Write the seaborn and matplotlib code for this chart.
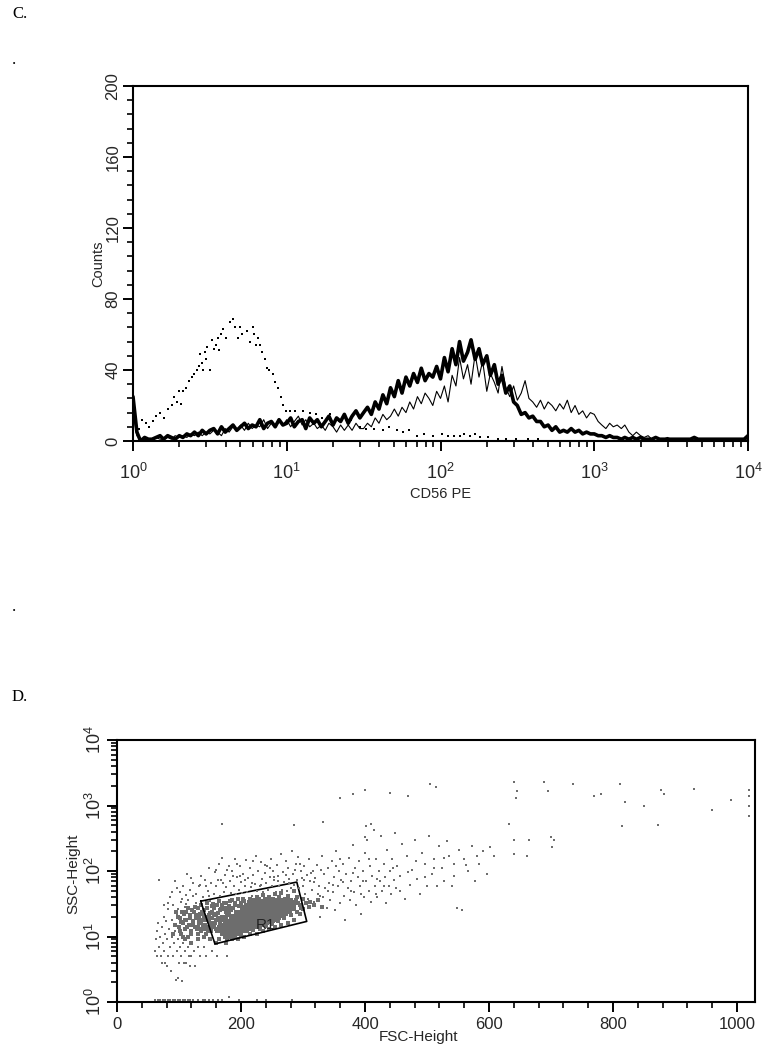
import pandas as pd
import matplotlib
matplotlib.use("Agg")
import matplotlib.pyplot as plt
import seaborn as sns
from matplotlib.ticker import FixedLocator, NullFormatter

# panel C histogram, one row per decade
pe_values = [
    1, 1.06, 1.12, 1.19, 1.26, 1.33, 1.41, 1.5, 1.58, 1.68, 1.78, 1.88, 2, 2.11, 2.24, 2.37, 2.51, 2.66, 2.82, 2.99,
    3.16, 3.35, 3.55, 3.76, 3.98, 4.22, 4.47, 4.73, 5.01, 5.31, 5.62, 5.96, 6.31, 6.68, 7.08, 7.5, 7.94, 8.41, 8.91, 9.44,
    10, 10.6, 11.2, 11.9, 12.6, 13.3, 14.1, 15, 15.8, 16.8, 17.8, 18.8, 20, 21.1, 22.4, 23.7, 25.1, 26.6, 28.2, 29.9,
    31.6, 33.5, 35.5, 37.6, 39.8, 42.2, 44.7, 47.3, 50.1, 53.1, 56.2, 59.6, 63.1, 66.8, 70.8, 75, 79.4, 84.1, 89.1, 94.4,
    100, 106, 112, 119, 126, 133, 141, 150, 158, 168, 178, 188, 200, 211, 224, 237, 251, 266, 282, 299,
    316, 335, 355, 376, 398, 422, 447, 473, 501, 531, 562, 596, 631, 668, 708, 750, 794, 841, 891, 944,
    1000, 1060, 1120, 1190, 1260, 1330, 1410, 1500, 1580, 1680, 1780, 1880, 2000, 2110, 2240, 2370, 2510, 2660, 2820, 2990,
    3160, 3350, 3550, 3760, 3980, 4220, 4470, 4730, 5010, 5310, 5620, 5960, 6310, 6680, 7080, 7500, 7940, 8410, 8910, 9440,
    10000,
]
thick_counts = [
    25, 5, 0, 2, 1, 1, 2, 3, 1, 3, 2, 1, 3, 2, 4, 3, 5, 3, 6, 4,
    6, 7, 4, 8, 5, 7, 9, 6, 8, 10, 7, 9, 8, 12, 7, 10, 11, 8, 12, 9,
    10, 13, 8, 11, 12, 7, 13, 10, 12, 8, 11, 14, 9, 13, 11, 15, 10, 14, 17, 13,
    16, 19, 15, 22, 18, 26, 21, 30, 25, 34, 27, 36, 31, 38, 33, 41, 34, 38, 36, 42,
    35, 47, 39, 52, 43, 56, 45, 50, 57, 46, 52, 43, 48, 37, 43, 32, 37, 27, 31, 22,
    20, 15, 16, 13, 14, 11, 11, 8, 9, 6, 8, 5, 6, 5, 7, 5, 6, 4, 5, 4,
    4, 3, 3, 2, 3, 2, 2, 1, 2, 1, 2, 1, 2, 1, 1, 1, 2, 1, 1, 1,
    1, 1, 1, 1, 1, 1, 2, 1, 1, 1, 1, 1, 1, 1, 1, 1, 1, 1, 1, 1,
    3,
]
thin_counts = [
    16, 3, 1, 1, 0, 1, 2, 1, 1, 2, 1, 3, 2, 3, 2, 4, 3, 5, 3, 5,
    4, 6, 5, 3, 7, 5, 8, 6, 9, 6, 10, 7, 9, 8, 12, 7, 10, 8, 11, 9,
    12, 8, 11, 14, 9, 12, 8, 10, 7, 9, 6, 10, 8, 5, 9, 6, 9, 6, 10, 7,
    7, 10, 8, 13, 10, 15, 12, 14, 18, 14, 19, 16, 22, 18, 25, 21, 27, 24, 20, 28,
    24, 31, 22, 37, 31, 47, 35, 43, 32, 49, 36, 45, 28, 38, 33, 27, 42, 30, 25, 31,
    23, 27, 34, 24, 22, 19, 23, 18, 22, 20, 17, 21, 18, 23, 16, 20, 15, 17, 13, 16,
    15, 11, 9, 7, 10, 8, 9, 7, 9, 5, 3, 5, 3, 2, 3, 1, 2, 1, 1, 2,
    1, 1, 1, 1, 0, 1, 1, 0, 1, 1, 0, 1, 1, 0, 1, 1, 0, 1, 1, 0,
    1,
]
dotted_points = [
    (1.05, 9), (1.1, 7), (1.15, 12), (1.22, 10), (1.28, 8), (1.35, 11), (1.42, 14), (1.5, 16), (1.6, 13), (1.68, 18),
    (1.78, 20), (1.85, 25), (1.92, 22), (2.0, 28), (2.05, 21), (2.1, 28), (2.2, 30), (2.3, 34), (2.42, 36), (2.5, 38),
    (2.6, 40), (2.68, 42), (2.72, 49), (2.8, 44), (2.85, 40), (2.92, 50), (3.0, 46), (3.05, 53), (3.15, 40), (3.25, 57),
    (3.35, 52), (3.45, 54), (3.55, 58), (3.62, 51), (3.72, 60), (3.85, 63), (4.05, 58), (4.25, 67), (4.5, 69), (4.6, 64),
    (4.8, 58), (5.0, 64), (5.15, 60), (5.5, 62), (5.8, 56), (6.0, 64), (6.15, 60), (6.3, 54), (6.5, 58), (6.7, 54),
    (6.9, 50), (7.2, 46), (7.4, 41), (7.7, 40), (8.1, 38), (8.4, 33), (8.8, 30), (9.2, 25), (9.4, 20), (9.9, 17),
    (10.5, 17), (11.3, 17), (12.8, 17), (14.2, 16), (15.5, 15), (17, 13), (19, 15), (22, 11), (26, 12), (30, 8),
    (33, 7), (37, 7), (42, 6), (46, 8), (52, 6), (57, 5), (62, 6), (70, 3), (78, 4), (90, 3),
    (102, 4), (112, 3), (122, 3), (133, 3), (142, 4), (155, 3), (168, 4), (180, 2), (205, 2), (235, 1),
    (265, 1), (310, 1), (370, 1), (430, 1),
]

# panel D, dense centre of the gated population
core_points = [
    (178, 12), (178, 14), (178, 16), (187, 12), (187, 14), (187, 16), (187, 19),
    (195, 12), (195, 14), (195, 16), (195, 19), (195, 22), (205, 13), (205, 15), (205, 17), (205, 20), (205, 23), (205, 26),
    (215, 14), (215, 16), (215, 18), (215, 21), (215, 24), (215, 28), (225, 15), (225, 17), (225, 19), (225, 22), (225, 26), (225, 30), (225, 32),
    (235, 16), (235, 18), (235, 20), (235, 23), (235, 27), (235, 31), (235, 33), (245, 18), (245, 20), (245, 23), (245, 27), (245, 31), (245, 33),
    (255, 19), (255, 21), (255, 24), (255, 28), (255, 32), (265, 22), (265, 24), (265, 28), (265, 32), (275, 25), (275, 27), (275, 31), (283, 28), (283, 31),
]
# left shoulder and the inside of the gate
shoulder_points = [
    (100, 14), (102, 19), (104, 11), (106, 16), (108, 22), (110, 13), (112, 18), (114, 10), (116, 15), (118, 21),
    (120, 12), (122, 17), (124, 24), (126, 14), (128, 19), (130, 11), (132, 16), (134, 22), (136, 13), (138, 18),
    (140, 25), (142, 15), (144, 20), (146, 12), (148, 17), (150, 23), (152, 14), (154, 19), (156, 27), (158, 16),
    (160, 21), (162, 12), (164, 18), (166, 25), (168, 15), (170, 30), (172, 20), (174, 10), (176, 24), (178, 9),
    (125, 28), (135, 30), (145, 33), (155, 31), (165, 35), (175, 33), (185, 36), (195, 38), (205, 35), (215, 38),
    (225, 40), (235, 43), (245, 40), (255, 44), (265, 46), (275, 42), (285, 50), (180, 25), (190, 30), (200, 32),
    (165, 9), (175, 8), (185, 9), (195, 9), (205, 10), (215, 11), (225, 11), (235, 12), (245, 13), (255, 14),
    (265, 15), (275, 16), (285, 18), (295, 22), (295, 30), (300, 26), (305, 33), (310, 28), (105, 24), (115, 27),
    (98, 20), (94, 15), (90, 11), (110, 9), (120, 8), (130, 9), (140, 10), (150, 9), (160, 8), (95, 24),
    (101, 12), (103, 16.5), (107, 10), (109, 18), (111, 24), (113, 14), (117, 19), (119, 11), (121, 25), (123, 15),
    (127, 21), (129, 13), (131, 27), (133, 18), (135, 12), (137, 24), (139, 15), (141, 19), (143, 11), (145, 27),
    (147, 14), (149, 20), (151, 12), (153, 29), (155, 16), (157, 22), (159, 13), (161, 30), (163, 19), (165, 14),
    (167, 26), (169, 20), (171, 13), (173, 33), (175, 27), (177, 22), (181, 29), (183, 35), (187, 27), (191, 33),
    (197, 29), (203, 37), (209, 30), (213, 34), (221, 36), (229, 38), (241, 37), (251, 38), (261, 40), (271, 38),
    (281, 36), (291, 40), (170, 11), (180, 10), (190, 10), (200, 10.5), (210, 12), (220, 12.5), (230, 13), (240, 14.5),
    (250, 15.5), (260, 17), (270, 19), (280, 21), (290, 24), (300, 38), (312, 34), (318, 30), (324, 36), (330, 28),
    (130, 14), (133, 20), (136, 16), (139, 22), (142, 13), (145, 18), (148, 21), (151, 16), (154, 24), (157, 14),
    (160, 18), (163, 23), (166, 16), (169, 18), (172, 26), (174, 15), (176, 19), (178, 21), (181, 23), (184, 25),
    (168, 12), (172, 14), (186, 10.5), (194, 11), (202, 28), (208, 30), (218, 33), (228, 36), (238, 38), (248, 37),
    (258, 36), (268, 36), (278, 36), (288, 36), (292, 33), (296, 27), (262, 19), (272, 22), (252, 17), (242, 16),
]
# scattered events
sparse_points = [
    (62, 6), (63, 9), (64, 12), (65, 5), (66, 16), (67, 7), (68, 72), (70, 10), (71, 5), (72, 14),
    (73, 4), (74, 8), (75, 20), (76, 6), (77, 11), (78, 4), (79, 17), (80, 3.5), (81, 9), (82, 26),
    (83, 5), (84, 13), (85, 40), (86, 7), (87, 3), (88, 18), (89, 10), (90, 5), (91, 30), (92, 8),
    (93, 70), (94, 12), (95, 2.2), (96, 6), (97, 22), (98, 2.3), (99, 9), (100, 4), (101, 48), (102, 7),
    (103, 34), (104, 5), (105, 2.1), (106, 60), (107, 8), (108, 4), (109, 28), (110, 6), (111, 43), (112, 4),
    (113, 90), (114, 7), (115, 36), (116, 5), (117, 3.5), (118, 52), (120, 5), (122, 66), (124, 6), (126, 3.5),
    (128, 45), (130, 7), (132, 58), (134, 5), (136, 85), (138, 40), (140, 7), (142, 72), (144, 5), (146, 50),
    (148, 110), (150, 35), (152, 65), (154, 6), (156, 44), (158, 95), (160, 58), (162, 5), (164, 130), (166, 42),
    (168, 72), (170, 160), (172, 48), (174, 88), (176, 56), (178, 5), (180, 120), (182, 70), (184, 46), (186, 100),
    (188, 60), (190, 155), (192, 44), (194, 82), (196, 52), (198, 120), (200, 68), (202, 46), (204, 90), (206, 58),
    (208, 145), (210, 48), (212, 78), (214, 110), (216, 56), (218, 42), (220, 88), (222, 64), (224, 170), (226, 50),
    (228, 100), (230, 60), (232, 135), (234, 76), (236, 48), (238, 92), (240, 66), (242, 120), (244, 52), (246, 80),
    (248, 150), (250, 58), (252, 100), (254, 72), (256, 47), (258, 125), (260, 85), (262, 60), (264, 180), (266, 52),
    (268, 95), (270, 68), (272, 140), (274, 50), (276, 110), (278, 76), (280, 55), (282, 200), (284, 90), (286, 62),
    (288, 130), (290, 72), (292, 165), (294, 55), (296, 100), (298, 78), (300, 60), (302, 120), (304, 44), (306, 88),
    (308, 38), (310, 150), (312, 70), (314, 52), (316, 100), (318, 34), (320, 78), (322, 125), (324, 45), (326, 60),
    (328, 20), (330, 170), (332, 40), (334, 90), (336, 55), (338, 27), (340, 110), (342, 66), (344, 36), (346, 140),
    (348, 48), (350, 80), (352, 25), (354, 200), (356, 58), (358, 100), (360, 32), (362, 72), (364, 130), (366, 42),
    (368, 18), (370, 90), (372, 55), (374, 160), (376, 36), (378, 70), (380, 250), (382, 48), (384, 110), (386, 30),
    (388, 80), (390, 140), (392, 60), (394, 22), (396, 100), (398, 40), (400, 190), (402, 70), (404, 300), (406, 50),
    (408, 120), (410, 34), (412, 85), (414, 420), (416, 60), (418, 155), (420, 40), (422, 100), (424, 70), (426, 340),
    (428, 50), (430, 130), (432, 80), (434, 32), (436, 210), (438, 60), (440, 100), (442, 45), (444, 150), (446, 72),
    (448, 380), (450, 55), (452, 120), (456, 85), (460, 260), (464, 38), (468, 170), (472, 62), (476, 105), (480, 300),
    (484, 75), (488, 45), (492, 190), (496, 130), (500, 58), (504, 340), (508, 90), (512, 150), (516, 60), (520, 240),
    (524, 110), (528, 70), (532, 290), (536, 170), (540, 60), (544, 130), (548, 27), (552, 210), (556, 25), (560, 150),
    (566, 100), (572, 240), (578, 70), (584, 130), (590, 200), (596, 90), (602, 230), (608, 170),
    (170, 520), (332, 560), (285, 500), (402, 480), (410, 520), (400, 330), (640, 300), (665, 300), (640, 180), (662, 170),
    (700, 330), (702, 230), (632, 530), (705, 300),
    (360, 1300), (380, 1500), (400, 1700), (440, 1550), (470, 1400), (505, 2100), (515, 1900), (640, 2300), (643, 1300), (645, 1650),
    (688, 2300), (695, 1650), (735, 2100), (770, 1400), (780, 1500), (812, 2100), (820, 1150), (850, 1000), (878, 1700), (882, 1500),
    (930, 1800), (960, 850), (990, 1200), (1020, 1750), (1020, 1400), (1020, 1000), (1020, 700), (815, 480), (873, 500),
    (83, 33), (97, 55), (105, 38), (119, 78), (127, 33), (143, 58), (159, 105), (171, 66), (187, 84), (193, 130),
    (207, 72), (219, 140), (233, 62), (247, 110), (259, 70), (273, 88), (287, 105), (301, 74), (317, 68), (329, 105),
    (341, 50), (353, 120), (365, 68), (381, 92), (393, 45), (407, 150), (419, 75), (431, 60), (445, 110), (457, 50),
    (469, 95), (483, 140), (497, 80), (511, 110), (527, 160), (543, 85), (563, 125), (581, 170), (76, 30), (88, 48),
    (99, 26), (112, 31), (123, 42), (134, 62), (149, 42), (163, 72), (177, 105), (199, 85), (217, 66), (239, 125),
    (253, 82), (277, 66), (295, 130), (313, 92), (327, 42), (349, 62), (359, 150), (377, 50), (397, 70), (417, 44),
]
axis_points = [
    (62, 1.06), (66, 1.06), (70, 1.06), (74, 1.06), (78, 1.06), (82, 1.06), (86, 1.06), (90, 1.06), (94, 1.06), (98, 1.06),
    (102, 1.06), (106, 1.06), (110, 1.06), (114, 1.06), (118, 1.06), (122, 1.06), (130, 1.06), (138, 1.06), (142, 1.06),
    (148, 1.06), (155, 1.06), (163, 1.06), (170, 1.06), (180, 1.2), (196, 1.06), (225, 1.06), (240, 1.06), (283, 1.06),
]
gate_x = [135, 290, 306, 158, 135]
gate_y = [34.6, 67.7, 17, 7.7, 34.6]

hist_ticks = [0, 40, 80, 120, 160, 200]
hist_decades = [1, 10, 100, 1000, 10000]
hist_decade_labels = ["$\\mathregular{10^{0}}$", "$\\mathregular{10^{1}}$", "$\\mathregular{10^{2}}$", "$\\mathregular{10^{3}}$", "$\\mathregular{10^{4}}$"]
fsc_ticks = [0, 200, 400, 600, 800, 1000]

sns.set_style("ticks")
plt.rcParams["font.family"] = ["Liberation Sans", "DejaVu Sans"]
plt.rcParams["mathtext.fontset"] = "custom"
plt.rcParams["mathtext.rm"] = "Liberation Sans"

W, H = 765, 1050
fig = plt.figure(figsize=(W / 100, H / 100), dpi=100)


def add_panel(left, top, right, bottom):
    return fig.add_axes([left / W, 1 - bottom / H, (right - left) / W, (bottom - top) / H])


def style_axes(ax):
    for side in ax.spines.values():
        side.set_linewidth(1.5)
        side.set_color("black")
    ax.tick_params(which="major", length=7, width=1.4, labelsize=12, pad=2, color="black")
    ax.tick_params(which="minor", length=4, width=1.2, color="black")
    ax.tick_params(axis="y", labelrotation=90)
    for lab in ax.get_yticklabels():
        lab.set_va("center")


# panel C
ax1 = add_panel(133, 86, 748, 441)
hist = pd.DataFrame({"pe": pe_values, "thick": thick_counts, "thin": thin_counts})
dots = pd.DataFrame(dotted_points, columns=["pe", "count"])
sns.lineplot(data=hist, x="pe", y="thin", color="black", linewidth=0.8, errorbar=None, ax=ax1)
sns.lineplot(data=hist, x="pe", y="thick", color="black", linewidth=2.6, errorbar=None,
             solid_joinstyle="round", ax=ax1)
sns.scatterplot(data=dots, x="pe", y="count", color="black", marker="s", s=2.5, linewidth=0, ax=ax1)
ax1.set_xscale("log")
ax1.set_xlim(1, 10000)
ax1.set_ylim(0, 200)
ax1.set_xticks(hist_decades)
ax1.set_xticklabels(hist_decade_labels)
ax1.xaxis.set_minor_locator(FixedLocator([m * d for d in hist_decades[:-1] for m in range(2, 10)]))
ax1.xaxis.set_minor_formatter(NullFormatter())
ax1.set_yticks(hist_ticks)
ax1.yaxis.set_minor_locator(FixedLocator(list(range(0, 201, 8))))
style_axes(ax1)
ax1.tick_params(axis="x", which="major", labelsize=13, pad=9)
ax1.set_xlabel("CD56 PE", fontsize=10.5, labelpad=3)
ax1.set_ylabel("Counts", fontsize=10.5, labelpad=0)

# panel D
ax2 = add_panel(117, 740, 755, 1002)
sparse = pd.DataFrame(sparse_points + axis_points, columns=["fsc", "ssc"])
shoulder = pd.DataFrame(shoulder_points, columns=["fsc", "ssc"])
core = pd.DataFrame(core_points, columns=["fsc", "ssc"])
grey = "#6d6d6d"
sns.scatterplot(data=sparse, x="fsc", y="ssc", color=grey, marker="s", s=2.2, linewidth=0, zorder=3, ax=ax2)
sns.scatterplot(data=shoulder, x="fsc", y="ssc", color=grey, marker="s", s=5, linewidth=0, ax=ax2)
sns.scatterplot(data=core, x="fsc", y="ssc", color=grey, marker="s", s=26, linewidth=0, ax=ax2)
sns.lineplot(x=gate_x, y=gate_y, color="black", linewidth=1.2, sort=False, estimator=None, errorbar=None, ax=ax2)
ax2.text(240, 15, "R1", fontsize=11, ha="center", va="center", color="#222222")
ax2.set_yscale("log")
ax2.set_xlim(0, 1029)
ax2.set_ylim(1, 10000)
ax2.set_xticks(fsc_ticks)
ax2.xaxis.set_minor_locator(FixedLocator(list(range(0, 1024, 40))))
ax2.set_yticks(hist_decades)
ax2.set_yticklabels(hist_decade_labels)
ax2.yaxis.set_minor_locator(FixedLocator([m * d for d in hist_decades[:-1] for m in range(2, 10)]))
ax2.yaxis.set_minor_formatter(NullFormatter())
style_axes(ax2)
ax2.tick_params(axis="y", which="major", labelsize=13)
ax2.tick_params(axis="x", which="major", pad=4)
ax2.set_xlabel("FSC-Height", fontsize=11)
ax2.xaxis.set_label_coords(0.473, -0.105)
ax2.set_ylabel("SSC-Height", fontsize=11)
ax2.yaxis.set_label_coords(-0.058, 0.49)

# panel letters around the plots
for label, px, py in [("C.", 12, 14), (".", 12, 60), (".", 12, 607), ("D.", 12, 697)]:
    fig.text(px / W, 1 - py / H, label, family="Liberation Serif", fontsize=12, va="center", ha="left", color="black")

fig.savefig("out.png", dpi=100)
